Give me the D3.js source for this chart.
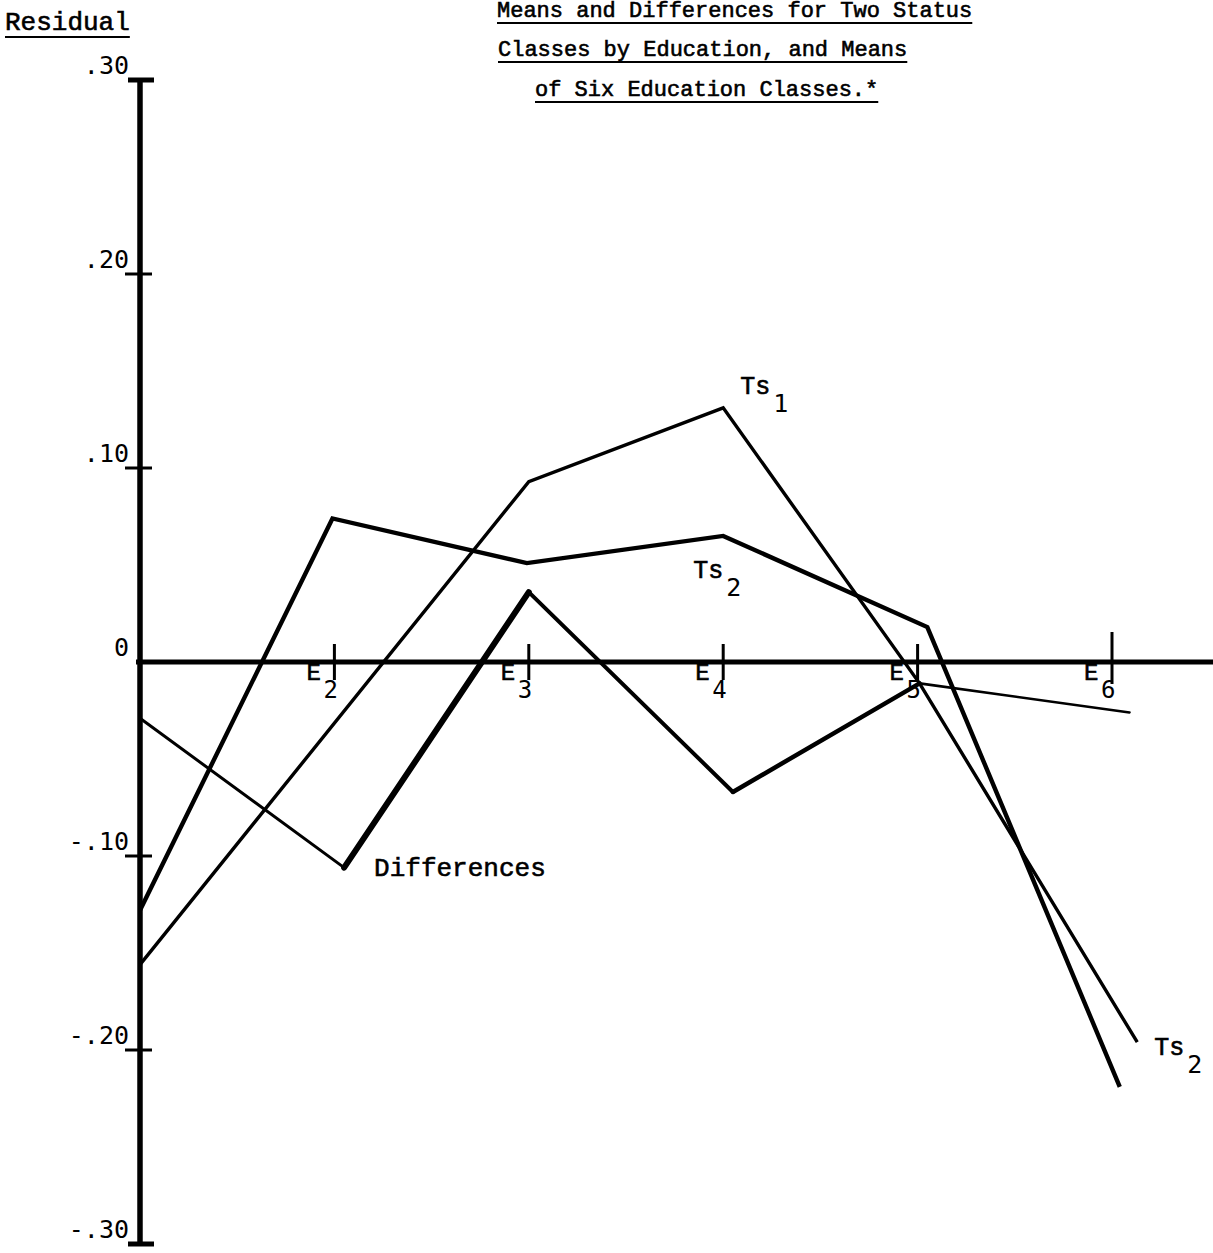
<!DOCTYPE html>
<html>
<head>
<meta charset="utf-8">
<script src="https://cdn.jsdelivr.net/npm/d3@7/dist/d3.min.js"></script>
<style>
  html, body { margin: 0; padding: 0; background: #fff; }
  svg { display: block; }
</style>
</head>
<body>
<svg id="chart" width="1213" height="1253"></svg>
<script>
// ---------- data ----------
const titleLines = [
  "Means and Differences for Two Status",
  "Classes by Education, and Means",
  "of Six Education Classes.*"
];
const yLabel = "Residual";
const eCategories = [2, 3, 4, 5, 6];                 // E1 is the vertical axis
const eLabels = ["2", "3", "4", "5", "6"];
const yTickValues = [0.30, 0.20, 0.10, 0, -0.10, -0.20, -0.30];
const yTickLabels = [".30", ".20", ".10", "0", "-.10", "-.20", "-.30"];

// Ts1 : positions along the education scale and residual means
const ts1X = [1, 3, 4, 5.01, 6.13];
const ts1Y = [-0.156, 0.093, 0.131, -0.011, -0.196];
// Ts2
const ts2X = [1, 1.99, 2.99, 4, 5.05, 6.04];
const ts2Y = [-0.128, 0.074, 0.051, 0.065, 0.018, -0.219];
// Differences
const diffX = [1, 2.05, 3, 4.05, 5.01, 6.09];
const diffY = [-0.029, -0.106, 0.036, -0.067, -0.011, -0.026];

// ---------- drawing ----------
const svg = d3.select("#chart");
const x = d3.scaleLinear().domain([1, 6]).range([140, 1112]);
const y = d3.scaleLinear().domain([-0.3, 0.3]).range([1244, 80]);

const serif = "'Liberation Mono', 'Courier New', monospace";
const sans = "'DejaVu Sans Mono', monospace";
const ink = sel => sel.attr("fill", "#000").attr("stroke", "#000").attr("stroke-width", 0.6);

// title
const titleX = [497, 498, 535];
const titleBase = [17, 56, 96];
titleLines.forEach((t, i) => {
  const tx = svg.append("text")
    .attr("x", titleX[i]).attr("y", titleBase[i])
    .attr("font-family", serif).attr("font-size", 22)
    .call(ink).text(t);
  const w = tx.node().getComputedTextLength();
  svg.append("line")
    .attr("x1", titleX[i]).attr("x2", titleX[i] + w)
    .attr("y1", titleBase[i] + 6).attr("y2", titleBase[i] + 6)
    .attr("stroke", "#000").attr("stroke-width", 2);
});

// y label
{
  const t = svg.append("text").attr("x", 5).attr("y", 30)
    .attr("font-family", serif).attr("font-size", 26).call(ink).text(yLabel);
  const w = t.node().getComputedTextLength();
  svg.append("line").attr("x1", 5).attr("x2", 5 + w)
    .attr("y1", 37).attr("y2", 37).attr("stroke", "#000").attr("stroke-width", 2);
}

// y axis
const yAxis = d3.axisLeft(y).tickValues(yTickValues).tickSize(0)
  .tickFormat((d, i) => yTickLabels[i]);
const gy = svg.append("g").attr("transform", `translate(${x(1)},0)`).call(yAxis);
gy.select(".domain").remove();
gy.selectAll(".tick line").remove();
gy.selectAll(".tick text")
  .attr("x", -11).attr("dy", -7)
  .attr("font-family", sans).attr("font-size", 25).attr("fill", "#000");
svg.append("line")
  .attr("x1", x(1)).attr("x2", x(1))
  .attr("y1", y(0.3)).attr("y2", y(-0.3))
  .attr("stroke", "#000").attr("stroke-width", 5.5);
yTickValues.forEach(v => {
  if (v === 0) return;
  const cap = Math.abs(v) === 0.3;
  svg.append("line")
    .attr("x1", x(1) - (cap ? 12 : 15)).attr("x2", x(1) + (cap ? 14 : 12))
    .attr("y1", y(v)).attr("y2", y(v))
    .attr("stroke", "#000").attr("stroke-width", cap ? 5 : 3);
});

// x axis (zero line)
svg.append("line")
  .attr("x1", x(1) - 4).attr("x2", 1213)
  .attr("y1", y(0)).attr("y2", y(0))
  .attr("stroke", "#000").attr("stroke-width", 5);
eCategories.forEach((c, i) => {
  const cx = x(c), cy = y(0);
  svg.append("line")
    .attr("x1", cx).attr("x2", cx)
    .attr("y1", cy - (c === 6 ? 30 : 18)).attr("y2", cy + (c === 6 ? 22 : 18))
    .attr("stroke", "#000").attr("stroke-width", 3);
  svg.append("text").attr("x", cx - 28).attr("y", cy + 18)
    .attr("font-family", serif).attr("font-size", 24).call(ink).text("E");
  svg.append("text").attr("x", cx - 11).attr("y", cy + 36)
    .attr("font-family", sans).attr("font-size", 24).attr("fill", "#000").text(eLabels[i]);
});

// series
const line = d3.line().x(d => x(d[0])).y(d => y(d[1]));
const ts1 = ts1X.map((v, i) => [v, ts1Y[i]]);
const ts2 = ts2X.map((v, i) => [v, ts2Y[i]]);
const diff = diffX.map((v, i) => [v, diffY[i]]);

svg.append("path").datum(ts1).attr("d", line)
  .attr("fill", "none").attr("stroke", "#000").attr("stroke-width", 3.4)
  .attr("stroke-linejoin", "miter");
svg.append("path").datum(ts2).attr("d", line)
  .attr("fill", "none").attr("stroke", "#000").attr("stroke-width", 4.4)
  .attr("stroke-linejoin", "miter");

const diffWidths = [3, 6, 4, 4.5, 2.6];
d3.pairs(diff).forEach((p, i) => {
  svg.append("path").datum(p).attr("d", line)
    .attr("fill", "none").attr("stroke", "#000")
    .attr("stroke-width", diffWidths[i]).attr("stroke-linecap", "round");
});

// series labels
function subLabel(px, py, main, sub) {
  svg.append("text").attr("x", px).attr("y", py)
    .attr("font-family", serif).attr("font-size", 25).call(ink).text(main);
  svg.append("text").attr("x", px + 33).attr("y", py + 18)
    .attr("font-family", sans).attr("font-size", 25).attr("fill", "#000").text(sub);
}
subLabel(x(4) + 17, y(0.131) - 14, "Ts", "1");
subLabel(x(4) - 30, y(0.065) + 42, "Ts", "2");
subLabel(x(6.13) + 17, y(-0.196) + 13, "Ts", "2");
svg.append("text").attr("x", x(2.05) + 30).attr("y", y(-0.106) + 8)
  .attr("font-family", serif).attr("font-size", 26).call(ink).text("Differences");
</script>
</body>
</html>
